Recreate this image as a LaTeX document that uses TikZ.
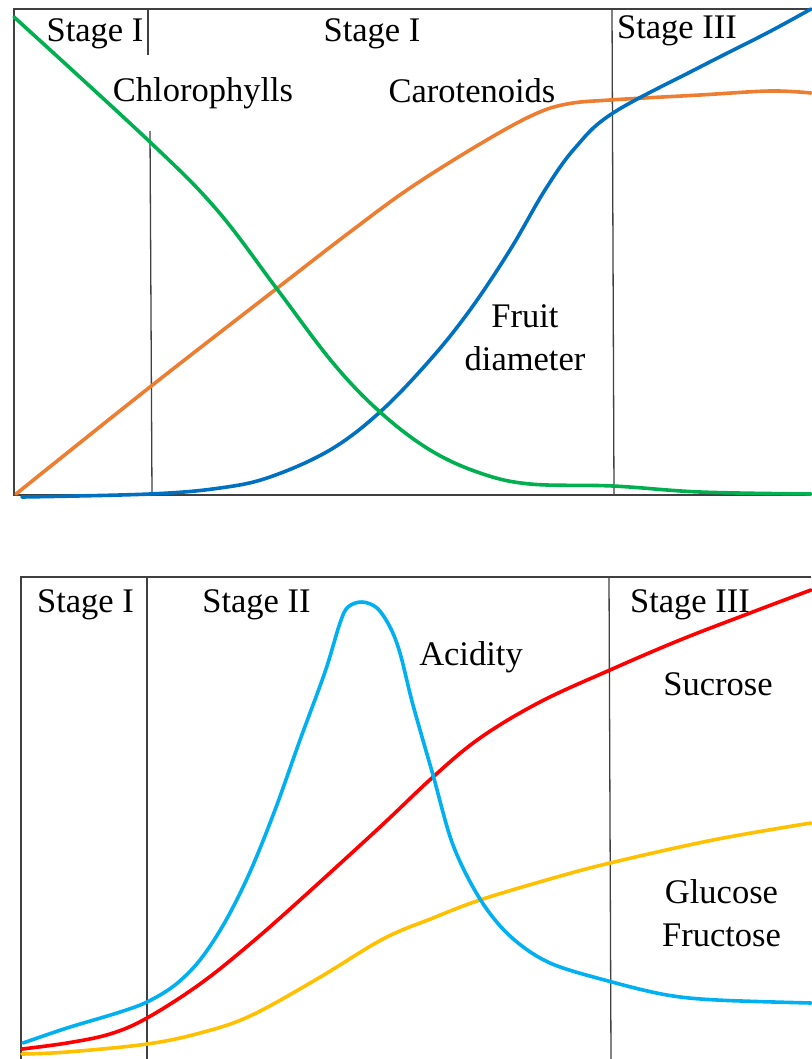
\documentclass[tikz,border=0pt]{standalone}
\usepackage{fontspec}
\setmainfont{Liberation Serif}
\definecolor{cgreen}{HTML}{00B050}
\definecolor{corange}{HTML}{ED7D31}
\definecolor{cblue}{HTML}{0070C0}
\definecolor{ccyan}{HTML}{00B0F0}
\definecolor{cred}{HTML}{FF0000}
\definecolor{cyellow}{HTML}{FFC000}
\begin{document}
\begin{tikzpicture}[x=1pt,y=-1pt,
  frame/.style={draw=black!75,line width=1.3pt},
  curve/.style={line width=3.6pt,line cap=round,line join=round},
  lbl/.style={inner sep=0pt,anchor=base,font=\fontsize{34.5}{43}\selectfont,align=center}]
\useasboundingbox (0,0) rectangle (811,1059);
% ---------- top panel ----------
\draw[frame] (811,9) -- (14,9) -- (14,495) -- (811,495);
\draw[frame] (148,9) -- (148,55);
\draw[frame] (150,131) -- (152,495);
\draw[frame] (612,9) -- (614,495);
\draw[curve,corange] plot[smooth,tension=0.6] coordinates {(16,494) (150,387) (280,286) (350,232) (410,188) (480,144) (533,115) (567,104) (610,100) (700,95) (770,91) (811,93)};
\draw[curve,cblue] plot[smooth,tension=0.6] coordinates {(22,497) (150,494) (220,488) (270,477) (330,450) (380,412) (430,360) (470,310) (510,250) (545,190) (575,148) (613,113) (700,67) (767,33) (811,9)};
\draw[curve,cgreen] plot[smooth,tension=0.6] coordinates {(14,17) (150,142) (217,210) (277,289) (333,363) (380,412) (430,450) (480,473) (530,484) (613,486) (700,492) (811,494)};
\node[lbl] (s1a) at (95,42) {Stage I};
\node[lbl] (s1b) at (372,42) {Stage I};
\node[lbl] (s3a) at (677,39) {Stage III};
\node[lbl] (chl) at (203,102) {Chlorophylls};
\node[lbl] (car) at (472,103) {Carotenoids};
\node[lbl] (fru) at (525,370) {Fruit\\diameter};
% ---------- bottom panel ----------
\draw[frame] (811,577) -- (21,577) -- (21,1059);
\draw[frame] (147,577) -- (147,1059);
\draw[frame] (609,577) -- (611,1059);
\draw[curve,cyellow] plot[smooth,tension=0.6] coordinates {(22,1054) (67,1052) (147,1044) (200,1033) (250,1016) (317,979) (383,939) (433,918) (480,900) (550,879) (610,863) (713,840) (811,823)};
\draw[curve,cred] plot[smooth,tension=0.6] coordinates {(22,1049) (67,1043) (110,1034) (147,1018) (200,984) (250,944) (300,900) (380,827) (433,777) (480,738) (540,702) (610,670) (680,640) (750,613) (811,590)};
\draw[curve,ccyan] plot[smooth,tension=0.55] coordinates {(23,1043) (67,1028) (117,1013) (147,1002) (175,985) (200,960) (225,922) (250,872) (275,810) (300,740) (325,672) (340,623) (348,607) (362,602) (377,608) (390,627) (400,653) (413,705) (433,775) (453,845) (480,899) (510,936) (550,963) (612,982) (667,995) (717,1000) (811,1003)};
\node[lbl] (s1c) at (85.5,612) {Stage I};
\node[lbl] (s2c) at (256.5,612) {Stage II};
\node[lbl] (s3c) at (690,612) {Stage III};
\node[lbl] (aci) at (471,665) {Acidity};
\node[lbl] (suc) at (718,695) {Sucrose};
\node[lbl] (glu) at (721.5,946) {Glucose\\Fructose};
\end{tikzpicture}
\end{document}
